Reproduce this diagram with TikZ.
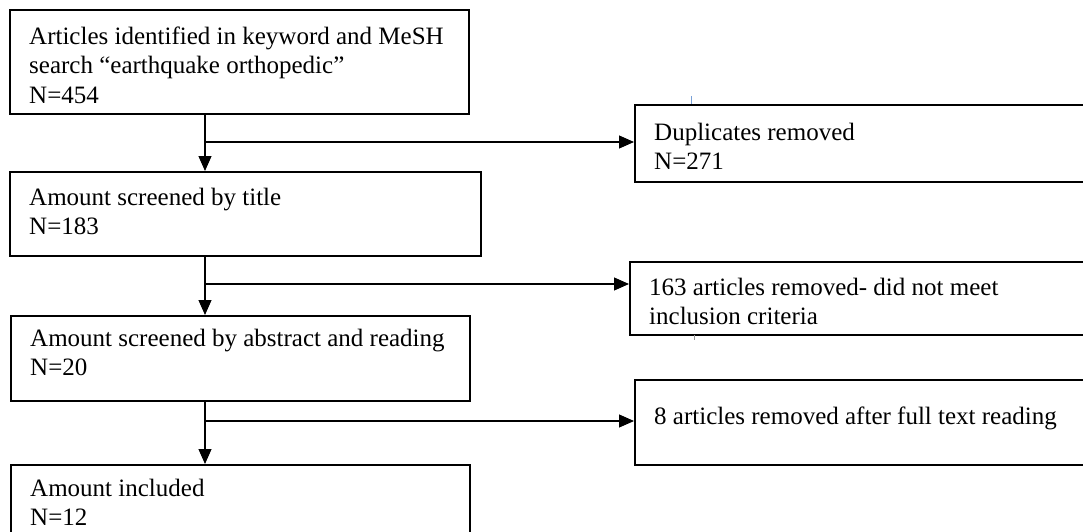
\documentclass[tikz,border=0pt]{standalone}
\usepackage{fontspec}
\setmainfont{Liberation Serif}
\usetikzlibrary{arrows.meta}
\definecolor{ticblue}{RGB}{120,160,215}
\definecolor{ticgray}{RGB}{150,150,150}
\begin{document}
\begin{tikzpicture}[x=1pt,y=-1pt,
  box/.style={draw=black, line width=2pt, inner sep=0pt, anchor=north west},
  txt/.style={anchor=base west, inner sep=0pt, font=\fontsize{25}{29.5}\selectfont},
  conn/.style={line width=1.1pt, draw=black},
  arr/.style={conn, -{Triangle[length=15pt,width=13pt]}}]
\useasboundingbox (0,0) rectangle (1083,531);
\clip (0,0) rectangle (1083,531);
% left column boxes
\node[box, minimum width=459pt, minimum height=104pt] (b1) at (9,9) {};
\node[box, minimum width=471pt, minimum height=84pt] (b2) at (9,171) {};
\node[box, minimum width=459pt, minimum height=85pt] (b3) at (10,315) {};
\node[box, minimum width=459pt, minimum height=80pt] (b4) at (10,464) {};
% right column boxes
\node[box, minimum width=460pt, minimum height=77pt] (r1) at (634,104) {};
\node[box, minimum width=465pt, minimum height=73pt] (r2) at (629,261) {};
\node[box, minimum width=460pt, minimum height=85pt] (r3) at (634,379) {};
% texts
\node[txt] (t1) at (29,44) {\parbox[t]{440pt}{Articles identified in keyword and MeSH\\search “earthquake orthopedic”\\N=454}};
\node[txt] (t2) at (29,205) {\parbox[t]{440pt}{Amount screened by title\\N=183}};
\node[txt] (t3) at (30,346) {\parbox[t]{440pt}{Amount screened by abstract and reading\\N=20}};
\node[txt] (t4) at (30,496) {\parbox[t]{440pt}{Amount included\\N=12}};
\node[txt] (u1) at (654,140) {\parbox[t]{420pt}{Duplicates removed\\N=271}};
\node[txt] (u2) at (649,295) {\parbox[t]{420pt}{163 articles removed- did not meet\\inclusion criteria}};
\node[txt] (u3) at (654,424) {\parbox[t]{420pt}{8 articles removed after full text reading}};
% junctions
\coordinate (j1) at (205,142);
\coordinate (j2) at (205,284);
\coordinate (j3) at (205,421);
% connectors
\draw[arr] (j1 |- b1.south) -- (j1 |- b2.north);
\draw[arr] (j1) -- (j1 -| r1.west);
\draw[arr] (j2 |- b2.south) -- (j2 |- b3.north);
\draw[arr] (j2) -- (j2 -| r2.west);
\draw[arr] (j3 |- b3.south) -- (j3 |- b4.north);
\draw[arr] (j3) -- (j3 -| r3.west);
% small stray ticks
\draw[ticblue, line width=0.8pt] (691,96) -- (r1.north -| 691,0);
\draw[ticgray, line width=0.6pt] (694,335) -- (694,340);
\end{tikzpicture}
\end{document}
